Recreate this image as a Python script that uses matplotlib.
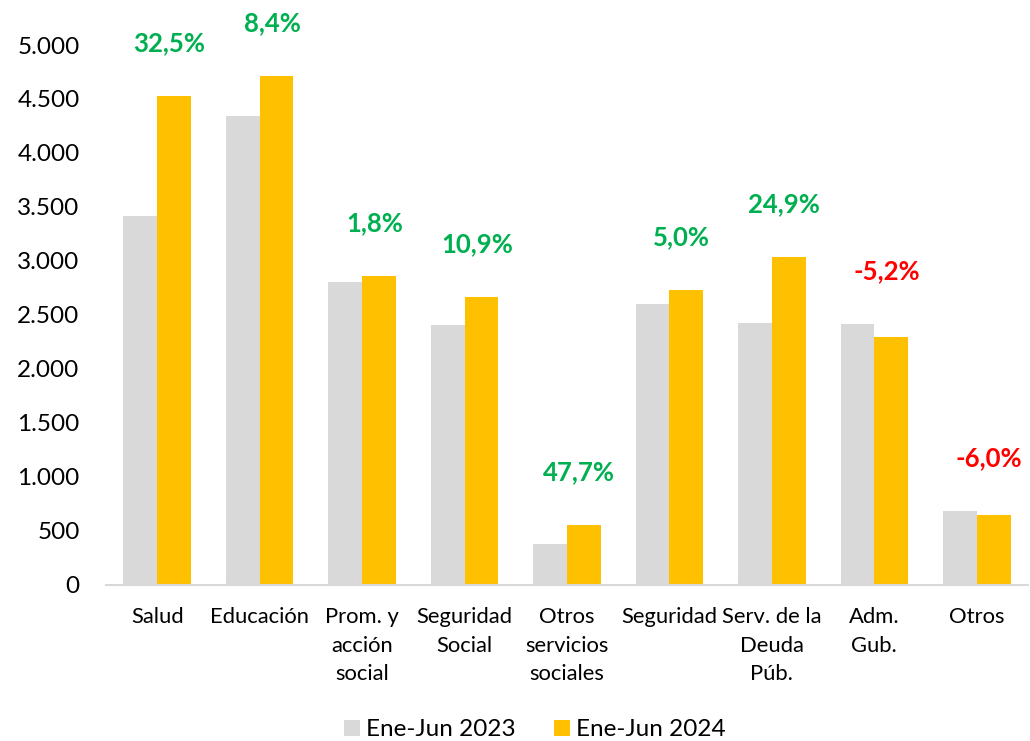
import matplotlib
matplotlib.use("Agg")
import matplotlib.pyplot as plt
import numpy as np

categories = ["Salud", "Educación", "Prom. y\nacción\nsocial", "Seguridad\nSocial",
              "Otros\nservicios\nsociales", "Seguridad", "Serv. de la\nDeuda\nPúb.",
              "Adm.\nGub.", "Otros"]
v2023 = [3418, 4345, 2803, 2405, 372, 2597, 2427, 2417, 684]
v2024 = [4530, 4710, 2856, 2665, 551, 2727, 3032, 2291, 641]
var_labels = ["32,5%", "8,4%", "1,8%", "10,9%", "47,7%", "5,0%", "24,9%", "-5,2%", "-6,0%"]
series_names = ["Ene-Jun 2023", "Ene-Jun 2024"]

plt.rcParams['font.family'] = ['Lato', 'DejaVu Sans']

fig = plt.figure(figsize=(10.30, 7.41), dpi=100)
ax = fig.add_axes([106/1030, (741-584.5)/741, 922/1030, (584.5-45)/741])

x = np.arange(len(categories))
w = 0.33
c23 = "#D9D9D9"
c24 = "#FFC000"
ax.bar(x - w/2, v2023, width=w, color=c23, label=series_names[0])
ax.bar(x + w/2, v2024, width=w, color=c24, label=series_names[1])

for i, lab in enumerate(var_labels):
    col = "#FF0000" if lab.startswith("-") else "#00B050"
    top = max(v2023[i], v2024[i])
    ax.annotate(lab, xy=(x[i] + 0.12, top), xytext=(0, 38), textcoords="offset points",
                ha="center", va="center", fontsize=18.5, fontweight="bold", color=col,
                annotation_clip=False)

ax.set_xlim(-0.5, len(categories) - 0.5)
ax.set_ylim(0, 5000)
ax.set_yticks(np.arange(0, 5001, 500))
ax.set_yticklabels([f"{v:,}".replace(",", ".") for v in range(0, 5001, 500)], fontsize=17.5)
ax.set_xticks(x)
ax.set_xticklabels(categories, fontsize=15.8, linespacing=1.55, va="top")
ax.tick_params(axis="y", length=0, pad=19)
ax.tick_params(axis="x", length=0, pad=16)
for s in ["top", "right", "left"]:
    ax.spines[s].set_visible(False)
ax.spines["bottom"].set_color("#D9D9D9")
ax.spines["bottom"].set_linewidth(1.5)

fig.legend(loc="center", bbox_to_anchor=(535/1030, 1 - 730/741), ncol=2, frameon=False,
           fontsize=17.5, handlelength=0.65, handleheight=0.65, handletextpad=0.25,
           columnspacing=1.6)

fig.savefig("out.png", dpi=100)
